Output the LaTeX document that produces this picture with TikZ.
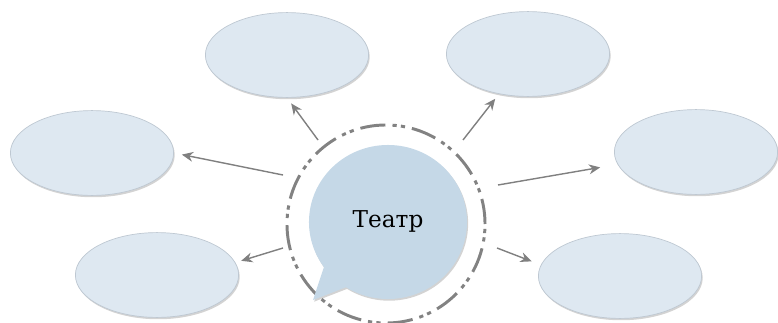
\documentclass[tikz,border=0pt]{standalone}
\usepackage{fontspec}
\newfontfamily\cyrserif{DejaVu Serif}
\usetikzlibrary{shapes.geometric,shapes.callouts,shadows,arrows.meta}
\definecolor{ovalfill}{RGB}{222,232,241}
\definecolor{ovalline}{RGB}{190,200,210}
\definecolor{bubblefill}{RGB}{197,216,231}
\definecolor{ringgray}{RGB}{130,130,130}
\definecolor{arrowgray}{RGB}{128,128,128}
\begin{document}
\begin{tikzpicture}
    [x=0.025cm,y=-0.025cm,
     oval/.style={ellipse,minimum width=4.08cm,minimum height=2.12cm,inner sep=0pt,
       fill=ovalfill,draw=ovalline,line width=0.5pt,
       drop shadow={shadow xshift=0.8pt,shadow yshift=-1.3pt,opacity=0.35}},
     post/.style={-{Stealth[length=8pt,width=7pt]},draw=arrowgray,fill=arrowgray,line width=1pt}]
    \useasboundingbox (0,0) rectangle (778,323);
    % dashed ring round the bubble
    \node [circle,minimum size=4.95cm,inner sep=0pt,draw=ringgray,line width=2.1pt,
      dash pattern=on 18pt off 5pt on 3pt off 3pt on 3pt off 5pt] (ring) at (386,224) {};
    \node [ellipse callout,callout absolute pointer={(313,300)},callout pointer arc=22,
      minimum width=3.95cm,minimum height=3.85cm,fill=bubblefill,
      drop shadow={shadow xshift=0.8pt,shadow yshift=-1.2pt,opacity=0.35},
      font=\cyrserif\fontsize{16.5}{18}\selectfont] (theatre) at (388,222)
      {\raisebox{3.5pt}{Театр}};
    % the six empty ovals
    \node [oval] (tl) at (287,55) {};
    \node [oval] (tr) at (528,54) {};
    \node [oval] (lf) at (92,153) {};
    \node [oval] (rt) at (696,152) {};
    \node [oval] (bl) at (157,275) {};
    \node [oval] (br) at (620,276) {};
    % arrows
    \coordinate (s1) at (318,140);
    \coordinate (s2) at (283,175);
    \coordinate (s3) at (463,140);
    \coordinate (s4) at (498,185);
    \coordinate (s5) at (283,248);
    \coordinate (s6) at (497,248);
    \draw [post,shorten >=5pt] (s1) -- (tl.south);
    \draw [post,shorten >=5.7pt] (s2) -- (lf.east);
    \draw [post,shorten >=4.3pt] (s3) -- (tr.-126);
    \draw [post,shorten >=12.5pt] (s4) -- (rt.-171);
    \draw [post,shorten >=4.3pt] (s5) -- (bl.9);
    \draw [post,shorten >=7pt] (s6) -- (br.172);
  \end{tikzpicture}
\end{document}
